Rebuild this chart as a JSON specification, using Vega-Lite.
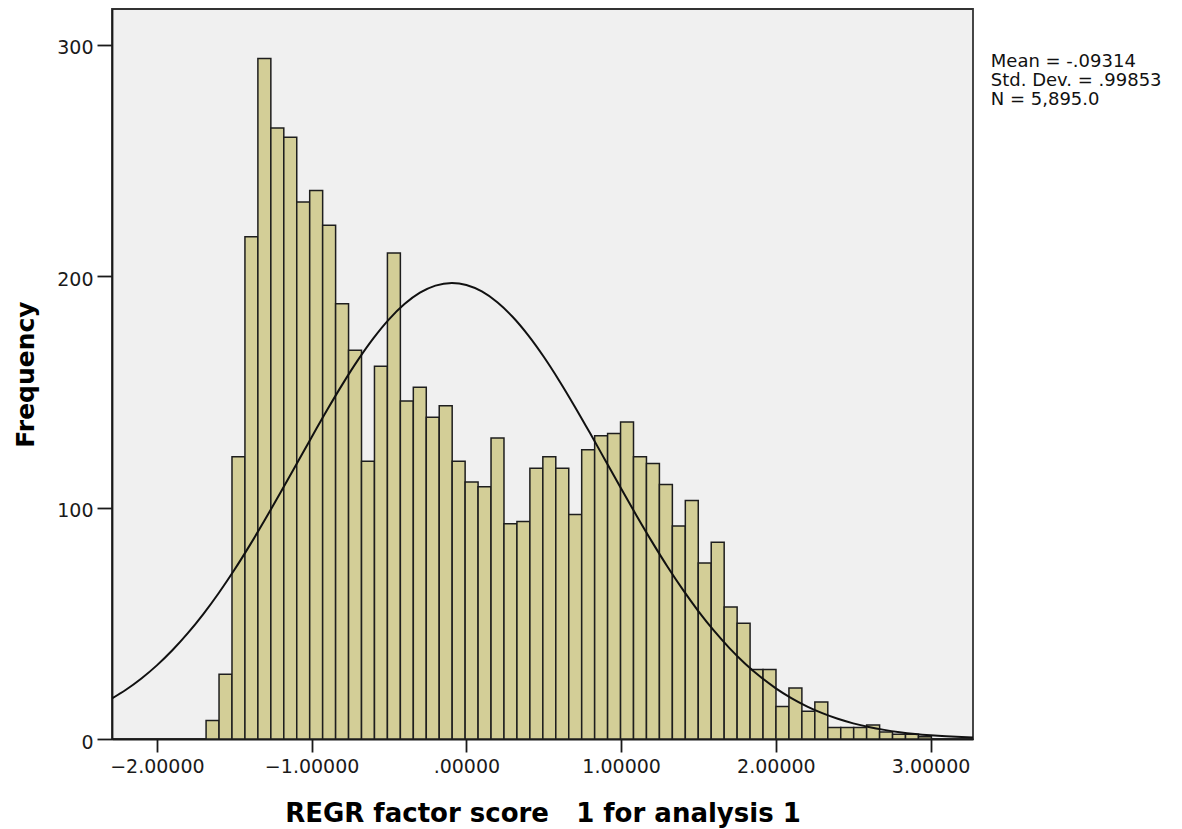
{
  "$schema": "https://vega.github.io/schema/vega-lite/v6.json",
  "width": 861,
  "height": 730,
  "autosize": {"type": "none"},
  "padding": {"left": 112, "top": 9, "right": 209, "bottom": 90},
  "background": "#ffffff",
  "config": {
    "view": {"fill": "#f0f0f0", "stroke": "#333333", "strokeWidth": 1.8},
    "axis": {"grid": false, "labelFont": "DejaVu Sans", "labelFontSize": 19, "labelColor": "#1a1a1a", "titleFont": "DejaVu Sans", "titleFontWeight": "bold", "titleColor": "#000000", "domainColor": "#1a1a1a", "domainWidth": 1.8, "tickColor": "#1a1a1a", "tickWidth": 1.8}
  },
  "datasets": {
    "bars": [
      {"x0": -1.682, "x1": -1.5983, "count": 8},
      {"x0": -1.5983, "x1": -1.5146, "count": 28},
      {"x0": -1.5146, "x1": -1.4309, "count": 122},
      {"x0": -1.4309, "x1": -1.3472, "count": 217},
      {"x0": -1.3472, "x1": -1.2635, "count": 294},
      {"x0": -1.2635, "x1": -1.1798, "count": 264},
      {"x0": -1.1798, "x1": -1.0961, "count": 260},
      {"x0": -1.0961, "x1": -1.0124, "count": 232},
      {"x0": -1.0124, "x1": -0.9287, "count": 237},
      {"x0": -0.9287, "x1": -0.845, "count": 222},
      {"x0": -0.845, "x1": -0.7613, "count": 188},
      {"x0": -0.7613, "x1": -0.6776, "count": 168},
      {"x0": -0.6776, "x1": -0.5939, "count": 120},
      {"x0": -0.5939, "x1": -0.5102, "count": 161},
      {"x0": -0.5102, "x1": -0.4265, "count": 210},
      {"x0": -0.4265, "x1": -0.3428, "count": 146},
      {"x0": -0.3428, "x1": -0.2591, "count": 152},
      {"x0": -0.2591, "x1": -0.1754, "count": 139},
      {"x0": -0.1754, "x1": -0.0917, "count": 144},
      {"x0": -0.0917, "x1": -0.008, "count": 120},
      {"x0": -0.008, "x1": 0.0757, "count": 111},
      {"x0": 0.0757, "x1": 0.1594, "count": 109},
      {"x0": 0.1594, "x1": 0.2431, "count": 130},
      {"x0": 0.2431, "x1": 0.3268, "count": 93},
      {"x0": 0.3268, "x1": 0.4105, "count": 94},
      {"x0": 0.4105, "x1": 0.4942, "count": 117},
      {"x0": 0.4942, "x1": 0.5779, "count": 122},
      {"x0": 0.5779, "x1": 0.6616, "count": 117},
      {"x0": 0.6616, "x1": 0.7453, "count": 97},
      {"x0": 0.7453, "x1": 0.829, "count": 125},
      {"x0": 0.829, "x1": 0.9127, "count": 131},
      {"x0": 0.9127, "x1": 0.9964, "count": 132},
      {"x0": 0.9964, "x1": 1.0801, "count": 137},
      {"x0": 1.0801, "x1": 1.1638, "count": 122},
      {"x0": 1.1638, "x1": 1.2475, "count": 119},
      {"x0": 1.2475, "x1": 1.3312, "count": 110},
      {"x0": 1.3312, "x1": 1.4149, "count": 92},
      {"x0": 1.4149, "x1": 1.4986, "count": 103},
      {"x0": 1.4986, "x1": 1.5823, "count": 76},
      {"x0": 1.5823, "x1": 1.666, "count": 85},
      {"x0": 1.666, "x1": 1.7497, "count": 57},
      {"x0": 1.7497, "x1": 1.8334, "count": 50},
      {"x0": 1.8334, "x1": 1.9171, "count": 30},
      {"x0": 1.9171, "x1": 2.0008, "count": 30},
      {"x0": 2.0008, "x1": 2.0845, "count": 14},
      {"x0": 2.0845, "x1": 2.1682, "count": 22},
      {"x0": 2.1682, "x1": 2.2519, "count": 12},
      {"x0": 2.2519, "x1": 2.3356, "count": 16},
      {"x0": 2.3356, "x1": 2.4193, "count": 5},
      {"x0": 2.4193, "x1": 2.503, "count": 5},
      {"x0": 2.503, "x1": 2.5867, "count": 5},
      {"x0": 2.5867, "x1": 2.6704, "count": 6},
      {"x0": 2.6704, "x1": 2.7541, "count": 3},
      {"x0": 2.7541, "x1": 2.8378, "count": 2},
      {"x0": 2.8378, "x1": 2.9215, "count": 2},
      {"x0": 2.9215, "x1": 3.0052, "count": 1}
    ],
    "curve": [
      {"x": -2.29, "y": 17.52}, {"x": -2.2, "y": 21.27}, {"x": -2.1, "y": 26.15}, {"x": -2.0, "y": 31.81},
      {"x": -1.9, "y": 38.32}, {"x": -1.8, "y": 45.71}, {"x": -1.7, "y": 53.97}, {"x": -1.6, "y": 63.09},
      {"x": -1.5, "y": 73.01}, {"x": -1.4, "y": 83.66}, {"x": -1.3, "y": 94.9}, {"x": -1.2, "y": 106.58},
      {"x": -1.1, "y": 118.49}, {"x": -1.0, "y": 130.42}, {"x": -0.9, "y": 142.13}, {"x": -0.8, "y": 153.33},
      {"x": -0.7, "y": 163.78}, {"x": -0.6, "y": 173.19}, {"x": -0.5, "y": 181.31}, {"x": -0.4, "y": 187.91},
      {"x": -0.3, "y": 192.82}, {"x": -0.2, "y": 195.88}, {"x": -0.09314, "y": 197.0}, {"x": 0.0, "y": 196.15},
      {"x": 0.1, "y": 193.35}, {"x": 0.2, "y": 188.69}, {"x": 0.3, "y": 182.31}, {"x": 0.4, "y": 174.38},
      {"x": 0.5, "y": 165.14}, {"x": 0.6, "y": 154.82}, {"x": 0.7, "y": 143.7}, {"x": 0.8, "y": 132.05},
      {"x": 0.9, "y": 120.13}, {"x": 1.0, "y": 108.2}, {"x": 1.1, "y": 96.48}, {"x": 1.2, "y": 85.17},
      {"x": 1.3, "y": 74.43}, {"x": 1.4, "y": 64.4}, {"x": 1.5, "y": 55.17}, {"x": 1.6, "y": 46.79},
      {"x": 1.7, "y": 39.28}, {"x": 1.8, "y": 32.65}, {"x": 1.9, "y": 26.87}, {"x": 2.0, "y": 21.89},
      {"x": 2.1, "y": 17.66}, {"x": 2.2, "y": 14.1}, {"x": 2.3, "y": 11.15}, {"x": 2.4, "y": 8.72},
      {"x": 2.5, "y": 6.76}, {"x": 2.6, "y": 5.19}, {"x": 2.7, "y": 3.94}, {"x": 2.8, "y": 2.96},
      {"x": 2.9, "y": 2.2}, {"x": 3.0, "y": 1.63}, {"x": 3.1, "y": 1.19}, {"x": 3.2, "y": 0.86},
      {"x": 3.274, "y": 0.67}
    ]
  },
  "layer": [
    {
      "data": {"name": "bars"},
      "mark": {"type": "rect", "fill": "#d3ce97", "stroke": "#1e1e1e", "strokeWidth": 1.5},
      "encoding": {
        "x": {
          "field": "x0", "type": "quantitative",
          "scale": {"domain": [-2.29, 3.274], "nice": false, "zero": false},
          "axis": {
            "values": [-2, -1, 0, 1, 2, 3],
            "labelExpr": "datum.value == 0 ? '.00000' : format(datum.value, '.5f')",
            "tickSize": 13, "labelPadding": 5,
            "title": "REGR factor score\u00a0\u00a0\u00a01 for analysis 1",
            "titleFontSize": 26, "titleY": 82, "titleBaseline": "alphabetic"
          }
        },
        "x2": {"field": "x1"},
        "y": {
          "field": "count", "type": "quantitative",
          "scale": {"domain": [0, 315.4], "nice": false},
          "axis": {
            "values": [0, 100, 200, 300],
            "tickSize": 15, "labelPadding": 4, "labelOffset": 3,
            "title": "Frequency", "titleFontSize": 25,
            "titleAngle": 270, "titleX": -79, "titleY": 365,
            "titleAlign": "center", "titleBaseline": "alphabetic"
          }
        },
        "y2": {"datum": 0}
      }
    },
    {
      "data": {"name": "curve"},
      "mark": {"type": "line", "color": "#111111", "strokeWidth": 2, "clip": true, "interpolate": "monotone"},
      "encoding": {
        "x": {"field": "x", "type": "quantitative"},
        "y": {"field": "y", "type": "quantitative"}
      }
    },
    {
      "data": {"values": [{}]},
      "mark": {"type": "text", "align": "left", "baseline": "alphabetic", "font": "DejaVu Sans", "fontSize": 18, "lineHeight": 19, "color": "#111111", "clip": false},
      "encoding": {
        "x": {"datum": 3.389, "type": "quantitative"},
        "y": {"datum": 290.4, "type": "quantitative"},
        "text": {"value": ["Mean = -.09314", "Std. Dev. = .99853", "N = 5,895.0"]}
      }
    }
  ]
}
